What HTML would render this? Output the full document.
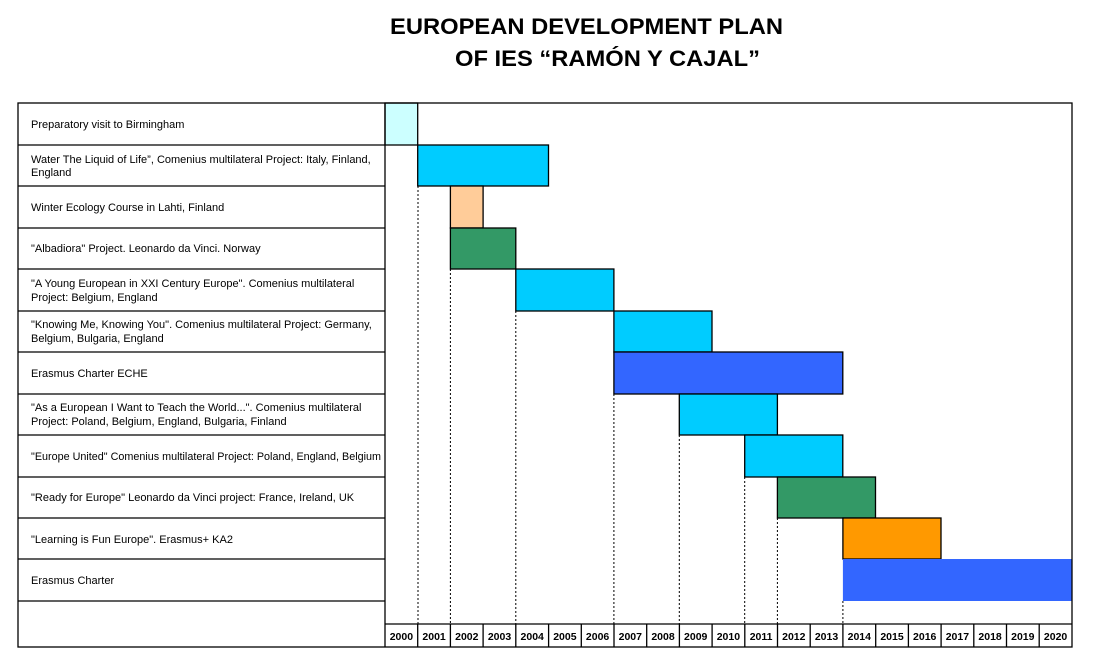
<!DOCTYPE html>
<html><head><meta charset="utf-8"><style>
html,body{margin:0;padding:0;background:#fff;}
svg{display:block;}
text{font-family:"Liberation Sans",Arial,sans-serif;}
.l{font-size:11px;letter-spacing:0px;fill:#000;}
.y{font-size:10.5px;font-weight:bold;fill:#000;text-anchor:middle;}
</style></head><body>
<svg width="1095" height="666" viewBox="0 0 1095 666" xmlns="http://www.w3.org/2000/svg">
<text x="390" y="34" font-size="22" font-weight="bold" textLength="393" lengthAdjust="spacingAndGlyphs">EUROPEAN DEVELOPMENT PLAN</text>
<text x="455" y="66" font-size="22" font-weight="bold" textLength="305" lengthAdjust="spacingAndGlyphs">OF IES “RAMÓN Y CAJAL”</text>

<g stroke="#000" stroke-width="1" stroke-dasharray="2,2">
<line x1="418" y1="186" x2="418" y2="624"/>
<line x1="450.4" y1="269" x2="450.4" y2="624"/>
<line x1="515.8" y1="311" x2="515.8" y2="624"/>
<line x1="613.9" y1="394" x2="613.9" y2="624"/>
<line x1="679.3" y1="435" x2="679.3" y2="624"/>
<line x1="744.7" y1="477" x2="744.7" y2="624"/>
<line x1="777.4" y1="518" x2="777.4" y2="624"/>
<line x1="842.9" y1="601" x2="842.9" y2="624"/>
</g>

<g stroke="#000" stroke-width="1.3">
<rect x="385" y="103" width="32.7" height="42" fill="#ccffff"/>
<rect x="417.7" y="145" width="130.8" height="41" fill="#00ccff"/>
<rect x="450.4" y="186" width="32.7" height="42" fill="#ffcc99"/>
<rect x="450.4" y="228" width="65.4" height="41" fill="#339966"/>
<rect x="515.8" y="269" width="98.1" height="42" fill="#00ccff"/>
<rect x="613.9" y="311" width="98.1" height="41" fill="#00ccff"/>
<rect x="613.9" y="352" width="228.9" height="42" fill="#3366ff"/>
<rect x="679.3" y="394" width="98.1" height="41" fill="#00ccff"/>
<rect x="744.7" y="435" width="98.1" height="42" fill="#00ccff"/>
<rect x="777.4" y="477" width="98.1" height="41" fill="#339966"/>
<rect x="842.9" y="518" width="98.1" height="41" fill="#ff9900"/>
<rect x="842.9" y="559" width="229.1" height="42" fill="#3366ff" stroke="none"/>
</g>

<g stroke="#000" stroke-width="1.3" fill="none">
<rect x="18" y="103" width="1054" height="544"/>
<line x1="385" y1="103" x2="385" y2="647"/>
<line x1="385" y1="624" x2="1072" y2="624"/>
<line x1="18" y1="145" x2="385" y2="145"/>
<line x1="18" y1="186" x2="385" y2="186"/>
<line x1="18" y1="228" x2="385" y2="228"/>
<line x1="18" y1="269" x2="385" y2="269"/>
<line x1="18" y1="311" x2="385" y2="311"/>
<line x1="18" y1="352" x2="385" y2="352"/>
<line x1="18" y1="394" x2="385" y2="394"/>
<line x1="18" y1="435" x2="385" y2="435"/>
<line x1="18" y1="477" x2="385" y2="477"/>
<line x1="18" y1="518" x2="385" y2="518"/>
<line x1="18" y1="559" x2="385" y2="559"/>
<line x1="18" y1="601" x2="385" y2="601"/>
<line x1="417.7" y1="624" x2="417.7" y2="647"/>
<line x1="450.4" y1="624" x2="450.4" y2="647"/>
<line x1="483.1" y1="624" x2="483.1" y2="647"/>
<line x1="515.8" y1="624" x2="515.8" y2="647"/>
<line x1="548.6" y1="624" x2="548.6" y2="647"/>
<line x1="581.3" y1="624" x2="581.3" y2="647"/>
<line x1="614" y1="624" x2="614" y2="647"/>
<line x1="646.7" y1="624" x2="646.7" y2="647"/>
<line x1="679.4" y1="624" x2="679.4" y2="647"/>
<line x1="712.1" y1="624" x2="712.1" y2="647"/>
<line x1="744.8" y1="624" x2="744.8" y2="647"/>
<line x1="777.5" y1="624" x2="777.5" y2="647"/>
<line x1="810.2" y1="624" x2="810.2" y2="647"/>
<line x1="842.9" y1="624" x2="842.9" y2="647"/>
<line x1="875.7" y1="624" x2="875.7" y2="647"/>
<line x1="908.4" y1="624" x2="908.4" y2="647"/>
<line x1="941.1" y1="624" x2="941.1" y2="647"/>
<line x1="973.8" y1="624" x2="973.8" y2="647"/>
<line x1="1006.5" y1="624" x2="1006.5" y2="647"/>
<line x1="1039.2" y1="624" x2="1039.2" y2="647"/>
</g>

<g class="l">
<text x="31" y="128">Preparatory visit to Birmingham</text>
<text x="31" y="163">Water The Liquid of Life”, Comenius multilateral Project: Italy, Finland,</text>
<text x="31" y="176">England</text>
<text x="31" y="211">Winter Ecology Course in Lahti, Finland</text>
<text x="31" y="252">"Albadiora" Project. Leonardo da Vinci. Norway</text>
<text x="31" y="287">"A Young European in XXI Century Europe". Comenius multilateral</text>
<text x="31" y="301">Project: Belgium, England</text>
<text x="31" y="328">"Knowing Me, Knowing You". Comenius multilateral Project: Germany,</text>
<text x="31" y="342">Belgium, Bulgaria, England</text>
<text x="31" y="377">Erasmus Charter  ECHE</text>
<text x="31" y="411">"As a European I Want to Teach the World...". Comenius multilateral</text>
<text x="31" y="425">Project: Poland, Belgium, England, Bulgaria, Finland</text>
<text x="31" y="460" textLength="350" lengthAdjust="spacingAndGlyphs">"Europe  United" Comenius multilateral Project: Poland, England, Belgium</text>
<text x="31" y="501">"Ready for Europe" Leonardo da Vinci project: France, Ireland, UK</text>
<text x="31" y="543">"Learning is Fun Europe".  Erasmus+  KA2</text>
<text x="31" y="584">Erasmus Charter</text>
</g>

<g class="y">
<text x="401.4" y="640">2000</text><text x="434.1" y="640">2001</text><text x="466.8" y="640">2002</text>
<text x="499.5" y="640">2003</text><text x="532.2" y="640">2004</text><text x="564.9" y="640">2005</text>
<text x="597.6" y="640">2006</text><text x="630.3" y="640">2007</text><text x="663" y="640">2008</text>
<text x="695.7" y="640">2009</text><text x="728.4" y="640">2010</text><text x="761.1" y="640">2011</text>
<text x="793.8" y="640">2012</text><text x="826.5" y="640">2013</text><text x="859.3" y="640">2014</text>
<text x="892" y="640">2015</text><text x="924.7" y="640">2016</text><text x="957.4" y="640">2017</text>
<text x="990.1" y="640">2018</text><text x="1022.8" y="640">2019</text><text x="1055.6" y="640">2020</text>
</g>
</svg>
</body></html>
